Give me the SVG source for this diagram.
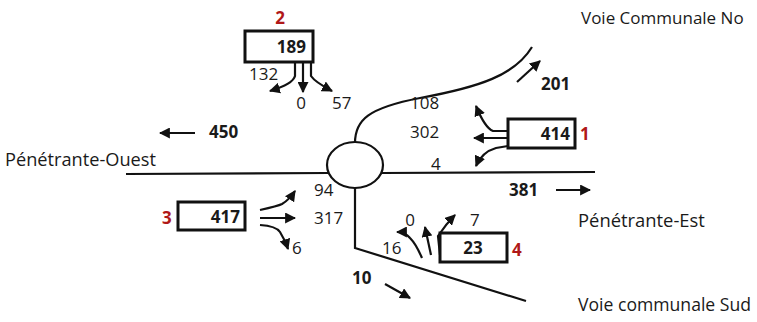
<svg xmlns="http://www.w3.org/2000/svg" width="757" height="322" viewBox="0 0 757 322">
<defs>
<marker id="ah" viewBox="0 0 10 10" refX="9" refY="5" markerWidth="11" markerHeight="11" markerUnits="userSpaceOnUse" orient="auto">
<path d="M0,0 L10,5 L0,10 Z" fill="#111"/>
</marker>
</defs>
<style>
.road{fill:none;stroke:#111;stroke-width:2.2}
.arr{fill:none;stroke:#111;stroke-width:2.2;marker-end:url(#ah)}
.box{fill:#fff;stroke:#111;stroke-width:3}
text{font-family:"Open Sans","Liberation Sans",sans-serif;fill:#1a1a1a}
.lbl{font-size:17px}
.num{font-size:17px}
.b{font-size:17px;font-weight:bold}
.red{font-size:17px;font-weight:bold;fill:#b01818}
</style>
<rect width="757" height="322" fill="#fff"/>
<g id="roads">
<line class="road" x1="126" y1="174" x2="328" y2="173"/>
<line class="road" x1="382" y1="173" x2="595" y2="172"/>
<path class="road" d="M355,143 C355,120 368,108 420,98 C480,87 515,75 532,47"/>
<path class="road" d="M355,188 L355,248 L526,301"/>
</g>
<g id="roundabout">
<ellipse cx="355" cy="165" rx="28" ry="23" fill="#fff" stroke="#111" stroke-width="2.2"/>
</g>
<g id="connectors">
<path class="arr" d="M295,63 L295,76 Q293,84 270,91"/>
<path class="arr" d="M303,63 L303,92"/>
<path class="arr" d="M311,63 L311,76 Q315,82 332,91"/>
<path class="arr" d="M508,131 L493,131 Q485,128 476,106"/>
<path class="arr" d="M508,138 L474,138"/>
<path class="arr" d="M508,146 L496,148 Q482,152 476,166"/>
<path class="arr" d="M260,210 Q278,206 282,204 Q289,200 295,191"/>
<path class="arr" d="M260,218 L295,218"/>
<path class="arr" d="M260,225 Q276,226 280,232 Q285,240 288,249"/>
<path class="arr" d="M422,258 Q416,244 410,238 Q405,232 397,232"/>
<path class="arr" d="M431,255 L425,227"/>
<path class="arr" d="M440,255 L438,236 Q446,224 455,215"/>
<line class="arr" x1="517" y1="82" x2="540" y2="61"/>
<line class="arr" x1="195" y1="133" x2="160" y2="133"/>
<line class="arr" x1="556" y1="190" x2="590" y2="190"/>
<line class="arr" x1="385" y1="284" x2="410" y2="298"/>
</g>
<g id="node-2">
<rect class="box" x="245" y="31" width="68" height="31"/>
<text class="b" x="306" y="53" text-anchor="end">189</text>
<text class="red" x="280" y="24" text-anchor="middle">2</text>
</g>
<g id="node-1">
<rect class="box" x="508" y="119" width="67" height="29"/>
<text class="b" x="570" y="140" text-anchor="end">414</text>
<text class="red" x="580" y="140">1</text>
</g>
<g id="node-3">
<rect class="box" x="178" y="202" width="67" height="28"/>
<text class="b" x="240" y="223" text-anchor="end">417</text>
<text class="red" x="162" y="224">3</text>
</g>
<g id="node-4">
<rect class="box" x="440" y="233" width="67" height="29"/>
<text class="b" x="473" y="254" text-anchor="middle">23</text>
<text class="red" x="512" y="256">4</text>
</g>
<g id="labels">
<text class="num" x="249" y="80">132</text>
<text class="num" x="301" y="109" text-anchor="middle">0</text>
<text class="num" x="332" y="109">57</text>
<text class="num" x="410" y="109">108</text>
<text class="num" x="410" y="138">302</text>
<text class="num" x="431" y="170">4</text>
<text class="num" x="314" y="196">94</text>
<text class="num" x="314" y="224">317</text>
<text class="num" x="292" y="254">6</text>
<text class="num" x="382" y="254">16</text>
<text class="num" x="410" y="226" text-anchor="middle">0</text>
<text class="num" x="470" y="226">7</text>
<text class="b" x="541" y="90">201</text>
<text class="b" x="209" y="138">450</text>
<text class="b" x="509" y="196">381</text>
<text class="b" x="352" y="284">10</text>
<text class="lbl" x="5" y="166" style="font-size:18.2px">Pénétrante-Ouest</text>
<text class="lbl" x="578" y="227" style="font-size:18.4px">Pénétrante-Est</text>
<text class="lbl" x="578" y="311" style="font-size:17.6px">Voie communale Sud</text>
<text class="lbl" x="581" y="24">Voie Communale No</text>
</g>
</svg>
